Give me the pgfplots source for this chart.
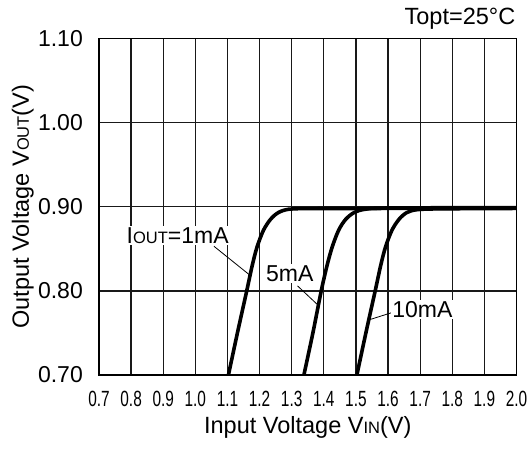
\documentclass[border=0pt]{standalone}
\usepackage{fontspec}
\setmainfont{Liberation Sans}
\usepackage{graphicx}
\usepackage{pgfplots}
\pgfplotsset{compat=1.18}

\newcommand\bigf{\fontsize{23.5bp}{27bp}\selectfont}
\newcommand\tickf{\fontsize{23bp}{27bp}\selectfont}
\newcommand\subf{\fontsize{16.5bp}{19bp}\selectfont}
\newcommand\sx[1]{\scalebox{0.7}[1]{#1}}

\begin{document}
\begin{tikzpicture}
\begin{axis}[
  scale only axis,
  width=417.5bp, height=336.5bp,
  xmin=0.7, xmax=2.0, ymin=0.7, ymax=1.1,
  clip=false,
  xtick={0.7,0.8,0.9,1.0,1.1,1.2,1.3,1.4,1.5,1.6,1.7,1.8,1.9,2.0},
  xticklabels={\sx{0.7},\sx{0.8},\sx{0.9},\sx{1.0},\sx{1.1},\sx{1.2},\sx{1.3},
    \sx{1.4},\sx{1.5},\sx{1.6},\sx{1.7},\sx{1.8},\sx{1.9},\sx{2.0}},
  ytick={0.7,0.8,0.9,1.0,1.1},
  yticklabels={0.70,0.80,0.90,1.00,1.10},
  major tick length=0pt,
  grid=major,
  grid style={black!90, line width=1.3bp},
  axis line style={black, line width=1.4bp},
  xticklabel style={font=\fontsize{22bp}{26bp}\selectfont, anchor=base, inner sep=0pt, yshift=-31.5bp},
  yticklabel style={font=\tickf, anchor=east, inner sep=0pt, xshift=-16bp},
  xlabel={Input Voltage V{\subf IN}(V)},
  ylabel={Output Voltage V{\subf OUT}(V)},
  xlabel style={font=\bigf, at={([yshift=-58bp]axis description cs:0.5,0)}, anchor=base, inner sep=1bp},
  ylabel style={font=\bigf, at={([xshift=-70bp]axis description cs:0,0.5)}, anchor=base, inner sep=1bp},
]
% 1mA
\addplot[black, line width=3.6bp, smooth, tension=0.5] coordinates {
(1.103,0.700) (1.131,0.750) (1.160,0.800) (1.177,0.830) (1.192,0.852)
(1.212,0.872) (1.234,0.885) (1.258,0.893) (1.290,0.897) (1.35,0.8978)
(1.6,0.898) (2.0,0.8985)};
% 5mA
\addplot[black, line width=3.6bp, smooth, tension=0.5] coordinates {
(1.338,0.700) (1.366,0.750) (1.392,0.800) (1.410,0.830) (1.426,0.852)
(1.446,0.872) (1.468,0.885) (1.494,0.893) (1.528,0.897) (1.60,0.8985)
(2.0,0.899)};
% 10mA
\addplot[black, line width=3.6bp, smooth, tension=0.5] coordinates {
(1.503,0.700) (1.531,0.750) (1.560,0.800) (1.577,0.830) (1.592,0.852)
(1.612,0.872) (1.634,0.885) (1.658,0.893) (1.690,0.8965) (1.76,0.8975)
(2.0,0.898)};

\draw[black, line width=0.8bp] (axis cs:1.058,0.853) -- (axis cs:1.172,0.818);
\draw[black, line width=0.8bp] (axis cs:1.318,0.806) -- (axis cs:1.385,0.782);
\draw[black, line width=0.8bp] (axis cs:1.5445,0.766) -- (axis cs:1.6105,0.774);

\node[fill=white, inner sep=1.5bp, font=\tickf] at (axis cs:0.945,0.866) {I{\subf OUT}=1mA};
\node[fill=white, inner sep=1.5bp, font=\tickf] at (axis cs:1.294,0.821) {5mA};
\node[fill=white, inner sep=1.5bp, font=\tickf] at (axis cs:1.707,0.778) {10mA};

\coordinate (sw) at (rel axis cs:0,0);
\coordinate (ne) at (rel axis cs:1,1);
\end{axis}
\node[anchor=base east, inner sep=0pt, font=\bigf] at ([xshift=-1bp, yshift=14bp]ne) {Topt=25°C};
\path (sw) ++(-99bp,-75bp) rectangle ++(532bp,450bp);
\end{tikzpicture}
\end{document}
